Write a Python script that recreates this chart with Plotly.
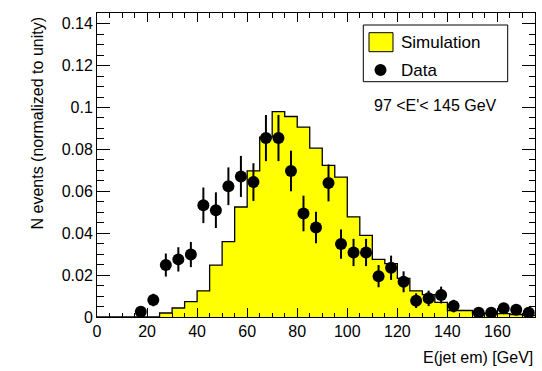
import plotly.graph_objects as go

# ---- data ----
bin_centers = [2.5, 7.5, 12.5, 17.5, 22.5, 27.5, 32.5, 37.5, 42.5, 47.5,
               52.5, 57.5, 62.5, 67.5, 72.5, 77.5, 82.5, 87.5, 92.5, 97.5,
               102.5, 107.5, 112.5, 117.5, 122.5, 127.5, 132.5, 137.5, 142.5, 147.5,
               152.5, 157.5, 162.5, 167.5, 172.5]
bin_width = 5.0

sim_values = [0, 0, 0, 0, 0, 0.0019, 0.0043, 0.0073, 0.0125, 0.0248,
              0.036, 0.0525, 0.0697, 0.0859, 0.098, 0.0957, 0.0906, 0.0806, 0.0724, 0.0668,
              0.0478, 0.039, 0.0275, 0.0255, 0.0184, 0.0125, 0.0107, 0.0070, 0.0031, 0.0031,
              0.0018, 0.0016, 0.0016, 0.0012, 0.0008]

data_values = [None, None, None, 0.0025, 0.0081, 0.0248, 0.0275, 0.0298, 0.0533, 0.0510,
               0.0624, 0.0671, 0.0644, 0.0854, 0.0854, 0.0697, 0.0494, 0.0427, 0.0640, 0.0348,
               0.0308, 0.0308, 0.0195, 0.0235, 0.0168, 0.0078, 0.0089, 0.0105, 0.0052, None,
               0.0020, 0.0020, 0.0042, 0.0035, 0.0020]
data_errors = [None, None, None, 0.0015, 0.0030, 0.0055, 0.0058, 0.0060, 0.0085, 0.0085,
               0.0090, 0.0098, 0.0090, 0.0110, 0.0110, 0.0097, 0.0085, 0.0075, 0.0088, 0.0070,
               0.0065, 0.0065, 0.0053, 0.0058, 0.0050, 0.0035, 0.0037, 0.0040, 0.0030, None,
               0.0015, 0.0015, 0.0025, 0.0020, 0.0015]

x_tick_vals = [0, 20, 40, 60, 80, 100, 120, 140, 160]
y_tick_vals = [0, 0.02, 0.04, 0.06, 0.08, 0.1, 0.12, 0.14]

x_title = "E(jet em) [GeV]"
y_title = "N events (normalized to unity)"
legend_sim = "Simulation"
legend_data = "Data"
range_text = "97 <E'< 145 GeV"

# ---- figure ----
FONT = "Liberation Sans, Arial, Helvetica, sans-serif"
W, H = 542, 371
ML, MR, MT, MB = 97, 7, 13, 54
PW = W - ML - MR
PH = H - MT - MB


def px(xp):
    return (xp - ML) / PW


def py(yp):
    return (H - MB - yp) / PH


edges = [c - bin_width / 2 for c in bin_centers] + [bin_centers[-1] + bin_width / 2]
step_y = sim_values + [sim_values[-1]]

fig = go.Figure()
fig.add_trace(go.Scatter(
    x=edges, y=step_y, mode="lines", line_shape="hv",
    line=dict(color="black", width=1.3),
    fill="tozeroy", fillcolor="#ffff00",
    name=legend_sim, showlegend=False, hoverinfo="skip"))

dx = [c for c, v in zip(bin_centers, data_values) if v is not None]
dy = [v for v in data_values if v is not None]
de = [e for e, v in zip(data_errors, data_values) if v is not None]
fig.add_trace(go.Scatter(
    x=dx, y=dy, mode="markers",
    marker=dict(color="black", size=12, symbol="circle"),
    error_y=dict(type="data", array=de, visible=True, color="black",
                 thickness=2, width=0),
    name=legend_data, showlegend=False))

axis_common = dict(
    showline=True, linecolor="black", linewidth=1, mirror="ticks",
    ticks="inside", tickcolor="black", showgrid=False, zeroline=False,
    tickfont=dict(family=FONT, size=16, color="black"),
)
fig.update_xaxes(range=[0, 175], tickvals=x_tick_vals, ticklen=9,
                 minor=dict(dtick=5, ticklen=4.5, ticks="inside", tickcolor="black"),
                 **axis_common)
fig.update_yaxes(range=[0, 0.1451], tickvals=y_tick_vals, ticklen=13,
                 minor=dict(dtick=0.005, ticklen=6.5, ticks="inside", tickcolor="black"),
                 **axis_common)

shapes = [
    # legend box
    dict(type="rect", xref="paper", yref="paper",
         x0=px(363.3), x1=px(507.7), y0=py(81.7), y1=py(25),
         line=dict(color="black", width=1), fillcolor="white"),
    # simulation swatch
    dict(type="rect", xref="paper", yref="paper",
         x0=px(369), x1=px(393), y0=py(51.7), y1=py(32.7),
         line=dict(color="black", width=1), fillcolor="#ffff00"),
    # data marker
    dict(type="circle", xref="paper", yref="paper",
         x0=px(374.5), x1=px(386.5), y0=py(76), y1=py(64),
         line=dict(color="black", width=0), fillcolor="black"),
]

annotations = [
    dict(text=legend_sim, xref="paper", yref="paper", x=px(399), y=py(42.5),
         xanchor="left", yanchor="middle", showarrow=False,
         font=dict(family=FONT, size=17, color="black")),
    dict(text=legend_data, xref="paper", yref="paper", x=px(399), y=py(70),
         xanchor="left", yanchor="middle", showarrow=False,
         font=dict(family=FONT, size=17, color="black")),
    dict(text=range_text, xref="paper", yref="paper", x=px(435), y=py(105),
         xanchor="center", yanchor="middle", showarrow=False,
         font=dict(family=FONT, size=16, color="black")),
    dict(text=x_title, xref="paper", yref="paper", x=1, y=0,
         xanchor="right", yanchor="middle", xshift=0, yshift=-40,
         showarrow=False, font=dict(family=FONT, size=16, color="black")),
    dict(text=y_title, xref="paper", yref="paper", x=0, y=py(15),
         xanchor="center", yanchor="top", xshift=-60, textangle=-90,
         showarrow=False, font=dict(family=FONT, size=16, color="black")),
]

fig.update_layout(
    width=W, height=H,
    margin=dict(l=ML, r=MR, t=MT, b=MB, pad=0),
    paper_bgcolor="white", plot_bgcolor="white",
    showlegend=False,
    shapes=shapes, annotations=annotations,
    font=dict(family=FONT, size=16, color="black"),
)

fig.write_html("out.html")
